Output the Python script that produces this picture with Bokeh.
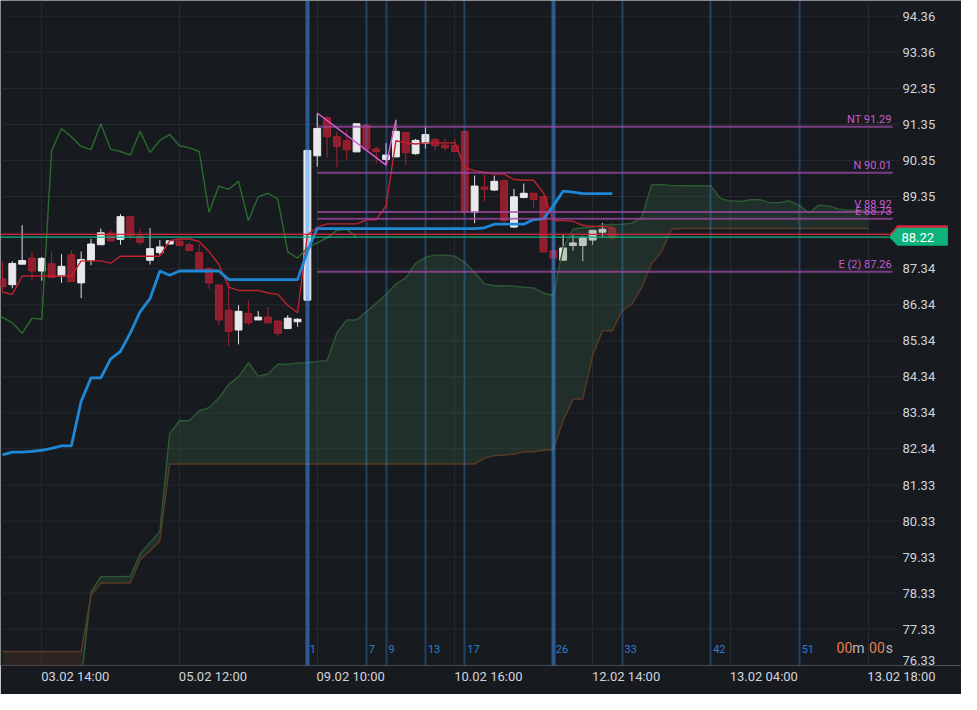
import numpy as np
from bokeh.plotting import figure
from bokeh.models import FixedTicker, Range1d, ColumnDataSource, PrintfTickFormatter
from bokeh.core.properties import value
from bokeh.embed import file_html
from bokeh.resources import INLINE

# ---------------- data ----------------
opens = [87.06, 86.90, 87.47, 87.64, 87.28, 87.48, 87.14, 87.73, 86.95, 87.57,
         88.01, 88.33, 88.16, 88.79, 88.25, 87.58, 87.79, 88.03, 88.11, 88.01,
         87.79, 87.35, 86.89, 86.19, 85.64, 86.10, 85.92, 86.00, 85.89, 85.68,
         85.87, 86.47, 90.48, 91.54, 91.01, 90.90, 90.59, 91.34, 90.67, 90.38,
         90.45, 91.13, 90.54, 90.83, 90.93, 90.78, 90.77, 91.16, 88.91, 89.61,
         89.53, 89.79, 88.50, 89.32, 89.44, 89.34, 87.84, 87.58, 87.99, 87.99,
         88.14, 88.36, 88.46]
highs = [87.55, 87.55, 88.55, 87.82, 87.67, 87.82, 87.75, 87.85, 87.82, 88.17,
         88.46, 88.43, 88.86, 88.79, 88.46, 88.47, 88.14, 88.12, 88.20, 88.07,
         88.03, 87.39, 86.89, 86.97, 86.33, 86.47, 86.17, 86.28, 85.89, 86.05,
         85.97, 90.63, 91.67, 91.58, 91.15, 91.20, 91.37, 91.34, 90.74, 90.83,
         91.48, 91.13, 90.95, 91.31, 90.97, 90.96, 90.96, 91.16, 89.93, 89.98,
         89.93, 89.79, 89.56, 89.71, 89.44, 89.34, 88.28, 88.28, 88.28, 88.25,
         88.41, 88.61, 88.61]
lows = [86.69, 86.80, 87.47, 87.01, 87.01, 87.10, 86.95, 86.99, 86.53, 87.44,
        88.01, 88.10, 88.01, 88.16, 88.01, 87.46, 87.72, 88.03, 87.99, 87.85,
        87.31, 86.78, 85.77, 85.20, 85.24, 85.77, 85.92, 85.83, 85.46, 85.68,
        85.73, 86.47, 90.18, 90.42, 90.16, 90.38, 90.59, 90.66, 90.27, 90.22,
        90.45, 90.22, 90.51, 90.68, 90.63, 90.61, 90.60, 88.82, 88.61, 89.21,
        89.50, 88.60, 88.48, 89.32, 89.02, 87.81, 87.33, 87.58, 87.84, 87.55,
        88.01, 88.23, 88.12]
closes = [86.85, 87.49, 87.57, 87.28, 87.63, 87.10, 87.41, 86.99, 87.60, 88.03,
          88.34, 88.12, 88.79, 88.26, 88.08, 87.90, 87.95, 88.12, 87.99, 87.85,
          87.31, 86.95, 85.92, 85.60, 86.16, 85.84, 86.00, 85.84, 85.55, 85.97,
          85.94, 90.63, 91.24, 91.01, 90.74, 90.65, 91.37, 90.66, 90.60, 90.50,
          91.16, 90.57, 90.91, 91.07, 90.76, 90.70, 90.60, 88.91, 89.64, 89.55,
          89.77, 88.68, 89.34, 89.44, 89.27, 87.81, 87.64, 87.92, 88.06, 88.20,
          88.41, 88.44, 88.22]

tenkan = [86.69, 86.63, 87.14, 87.14, 87.14, 87.14, 87.14, 87.14, 87.56, 87.56,
          87.56, 87.50, 87.69, 87.69, 87.69, 87.69, 87.69, 88.12, 88.17, 88.17,
          88.10, 87.82, 87.46, 86.83, 86.74, 86.74, 86.74, 86.67, 86.63, 86.33,
          86.12, 88.28, 88.50, 88.59, 88.59, 88.59, 88.59, 88.70, 88.71, 89.09,
          90.90, 90.84, 90.81, 90.84, 90.84, 90.84, 90.84, 90.15, 90.07, 90.02,
          89.97, 89.97, 89.82, 89.80, 89.80, 89.45, 88.68, 88.68, 88.66, 88.55,
          88.52, 88.52, 88.48]
kijun = [82.17, 82.25, 82.25, 82.27, 82.30, 82.35, 82.42, 82.42, 83.66, 84.31,
         84.31, 84.84, 85.05, 85.56, 86.15, 86.51, 87.28, 87.16, 87.28, 87.28,
         87.28, 87.28, 87.28, 87.04, 87.04, 87.04, 87.04, 87.04, 87.04, 87.04,
         87.04, 87.82, 88.46, 88.46, 88.46, 88.46, 88.46, 88.46, 88.46, 88.46,
         88.46, 88.46, 88.46, 88.46, 88.46, 88.46, 88.46, 88.46, 88.46, 88.48,
         88.58, 88.58, 88.58, 88.58, 88.71, 88.73, 89.09, 89.50, 89.47, 89.43,
         89.43, 89.43, 89.43]
senkou_a = [75.90, 75.90, 75.90, 75.90, 75.90, 75.90, 75.90, 75.90, 75.90, 78.35,
            78.79, 78.79, 78.79, 78.80, 79.42, 79.74, 80.04, 82.77, 83.12, 83.12,
            83.39, 83.48, 83.75, 84.13, 84.34, 84.73, 84.36, 84.42, 84.69, 84.69,
            84.72, 84.73, 84.77, 84.79, 85.56, 85.92, 85.92, 86.15, 86.38, 86.63,
            86.92, 87.08, 87.49, 87.66, 87.72, 87.72, 87.69, 87.52, 87.24, 86.92,
            86.87, 86.87, 86.86, 86.83, 86.81, 86.67, 86.60, 87.92, 88.44, 88.48,
            88.50, 88.55, 88.57, 88.58, 88.61, 88.77, 89.68, 89.68, 89.66, 89.65,
            89.65, 89.65, 89.65, 89.29, 89.23, 89.21, 89.26, 89.26, 89.18, 89.18,
            89.23, 89.11, 88.89, 89.11, 89.09, 89.00, 88.97, 88.97, 88.97]
senkou_b = [76.71, 76.71, 76.71, 76.71, 76.71, 76.71, 76.71, 76.71, 76.71, 78.27,
            78.61, 78.61, 78.61, 78.61, 79.25, 79.51, 79.78, 81.92, 81.92, 81.92,
            81.92, 81.92, 81.92, 81.92, 81.92, 81.92, 81.92, 81.92, 81.92, 81.92,
            81.92, 81.92, 81.92, 81.92, 81.92, 81.92, 81.92, 81.92, 81.92, 81.92,
            81.92, 81.92, 81.92, 81.92, 81.92, 81.92, 81.92, 81.92, 81.92, 82.08,
            82.15, 82.17, 82.19, 82.26, 82.26, 82.30, 82.32, 83.12, 83.72, 83.72,
            84.93, 85.62, 85.62, 86.17, 86.36, 86.83, 87.49, 87.81, 88.44, 88.46,
            88.46, 88.46, 88.46, 88.46, 88.46, 88.46, 88.46, 88.46, 88.46, 88.46,
            88.46, 88.46, 88.46, 88.46, 88.46, 88.46, 88.46, 88.46, 88.46]
chikou_shift = 26

target_names = ["NT", "N", "V", "E", "E (2)"]
target_levels = [91.29, 90.01, 88.92, 88.73, 87.26]
target_start_bar = 32

zigzag_bars = [32, 39, 40]

cycle_bars = [31, 37, 39, 43, 47, 56, 63, 72, 81]
cycle_labels = ["1", "7", "9", "13", "17", "26", "33", "42", "51"]
cycle_major = ["1", "26"]

ask_price = 88.30
bid_price = closes[-1]

date_bars = [4, 18, 32, 46, 60, 74, 88]
date_labels = ["03.02 14:00", "05.02 12:00", "09.02 10:00", "10.02 16:00",
               "12.02 14:00", "13.02 04:00", "13.02 18:00"]

y_tick_values = [76.33, 77.33, 78.33, 79.33, 80.33, 81.33, 82.34, 83.34, 84.34,
                 85.34, 86.34, 87.34, 88.34, 89.35, 90.35, 91.35, 92.35, 93.36, 94.36]

# ---------------- styling ----------------
BG = "#171a1f"
GRID = "#252930"
AXIS_TXT = "#d1d4dc"
FONT = "Roboto"
BULL = "#e9e9eb"
BEAR_FILL = "#8f1e2e"
BEAR_LINE = "#a8202f"

x_start, x_end = -0.2, 97.5      # whole width of the chart
price_end = 90.5                 # right end of the price area
axis_x = 91.2                    # where the price scale sits
y_start, y_end = 76.32, 94.795

p = figure(width=961, height=694,
           x_range=Range1d(x_start, x_end), y_range=Range1d(y_start, y_end),
           y_axis_location="right", toolbar_location=None, output_backend="svg",
           min_border_left=0, min_border_top=0, min_border_right=0, min_border_bottom=29,
           background_fill_color=BG, border_fill_color=BG, outline_line_color=None)

# price scale drawn inside the frame, at the right
hidden_tick = 88.34               # covered by the price box
edge_tick = y_tick_values[0]      # sits on the bottom edge, label nudged up
yax = p.yaxis[0]
yax.fixed_location = axis_x
yax.ticker = FixedTicker(ticks=[t for t in y_tick_values if t not in (hidden_tick, edge_tick)])
yax.formatter = PrintfTickFormatter(format="%.2f")
yax.axis_line_color = None
yax.major_tick_out = 0
yax.major_tick_in = 0
yax.major_tick_line_color = None
yax.minor_tick_line_color = None
yax.major_label_standoff = 3
yax.major_label_text_font = FONT
yax.major_label_text_font_size = "13px"
yax.major_label_text_color = AXIS_TXT
p.text(x=[axis_x], y=[edge_tick], text=[f"{edge_tick:.2f}"], x_offset=3, y_offset=-5,
       text_align="left", text_baseline="middle", text_font=value(FONT),
       text_font_size="13px", text_color=AXIS_TXT)

label_shift = 3.4
xax = p.xaxis[0]
xax.ticker = FixedTicker(ticks=[b + label_shift for b in date_bars])
xax.major_label_overrides = {b + label_shift: l for b, l in zip(date_bars, date_labels)}
xax.axis_line_color = None
xax.major_tick_line_color = None
xax.minor_tick_line_color = None
xax.major_tick_out = 0
xax.major_tick_in = 0
xax.major_label_standoff = 3
xax.major_label_text_font = FONT
xax.major_label_text_font_size = "13px"
xax.major_label_text_color = AXIS_TXT

p.xgrid.ticker = FixedTicker(ticks=date_bars)
p.xgrid.grid_line_color = GRID
p.ygrid.grid_line_color = None
# horizontal grid lines stop at the price scale
p.segment(x0=[x_start] * len(y_tick_values), x1=[axis_x] * len(y_tick_values),
          y0=y_tick_values, y1=y_tick_values, line_color=GRID, line_width=1)

# candles
idx = np.arange(len(opens))
o = np.array(opens); c = np.array(closes)
up = c >= o
csrc = ColumnDataSource(dict(
    x=idx, top=np.maximum(o, c), bottom=np.minimum(o, c), high=highs, low=lows,
    fill=[BULL if u else BEAR_FILL for u in up],
    line=[BULL if u else BEAR_LINE for u in up],
    wick=["#e2e2e4" if u else BEAR_LINE for u in up],
))
p.segment(x0="x", y0="low", x1="x", y1="high", line_color="wick", line_width=1, source=csrc)
p.vbar(x="x", width=0.7, top="top", bottom="bottom", fill_color="fill",
       line_color="line", line_width=1, source=csrc)

# cloud (drawn over the candles, translucent)
A = np.array(senkou_a); B = np.array(senkou_b)
cx = np.arange(len(A))
lo = np.minimum(A, B)
p.varea(x=cx, y1=A, y2=lo, fill_color="#3d6a4a", fill_alpha=0.27)
p.varea(x=cx, y1=B, y2=lo, fill_color="#7a4a2a", fill_alpha=0.22)
p.line(cx, A, line_color="#2c5a33", line_width=1.4)
p.line(cx, B, line_color="#5b3a24", line_width=1.4)

# cycle lines
csrc2 = ColumnDataSource(dict(
    x=cycle_bars,
    w=[4 if l in cycle_major else 2 for l in cycle_labels],
    a=[0.5 if l in cycle_major else 0.3 for l in cycle_labels],
))
p.vspan(x="x", line_width="w", line_alpha="a", line_color="#3d9aff", source=csrc2)

# chikou span: closes plotted 26 bars back
ch_x = np.arange(chikou_shift - 1, len(closes)) - chikou_shift
ch_y = np.array(closes[chikou_shift - 1:])
p.line(ch_x, ch_y, line_color="#2d6a2f", line_width=1.4)

# tenkan / kijun
p.line(idx, tenkan, line_color="#c0212f", line_width=1.4)
p.line(idx, kijun, line_color="#1e88d6", line_width=2.8)

# target lines
n_t = len(target_levels)
p.segment(x0=[target_start_bar] * n_t, x1=[price_end] * n_t, y0=target_levels, y1=target_levels,
          line_color="#a04aa8", line_width=2, line_alpha=0.75)
p.text(x=[price_end] * n_t, y=target_levels,
       text=[f"{n} {v:.2f}" for n, v in zip(target_names, target_levels)],
       text_align="right", text_baseline="bottom", x_offset=-1, y_offset=-1,
       text_font=value(FONT), text_font_size="11px", text_color="#c95ccc")

# zigzag through the swing points
zz_y = [highs[zigzag_bars[0]], lows[zigzag_bars[1]], highs[zigzag_bars[2]]]
p.line(zigzag_bars, zz_y, line_color="#d65ad6", line_width=1.5)

# bid / ask lines, ending at the price box
tip = price_end - 0.35
p.segment(x0=[x_start, x_start], x1=[tip, tip], y0=[ask_price, bid_price], y1=[ask_price, bid_price],
          line_color=["#d4263c", "#10b981"], line_width=1.2)

# cycle numbers
p.text(x=np.array(cycle_bars) + 0.25, y=[y_start + 0.47] * len(cycle_bars), text=cycle_labels,
       text_align="left", text_baseline="middle", text_font=value(FONT),
       text_font_size="11px", text_color="#2f7fd3")

# countdown
p.text(x=[84.8, 86.4, 88.1, 89.8], y=[y_start + 0.5] * 4, text=["00", "m", "00", "s"],
       text_align="left", text_baseline="middle", text_font=value(FONT), text_font_size="14px",
       text_color=["#ec7c4c", "#b8bcc2", "#ec7c4c", "#b8bcc2"])

# price box on the scale
bx0, bx1 = 91.0, 96.1
h_up, h_dn, red_lift = 0.26, 0.24, 0.07
p.patch([tip, bx0, bx1, bx1, bx0],
        [bid_price + red_lift, bid_price + h_up + red_lift, bid_price + h_up + red_lift,
         bid_price - h_dn + red_lift, bid_price - h_dn + red_lift],
        fill_color="#d4263c", line_color=None)
p.patch([tip, bx0, bx1, bx1, bx0],
        [bid_price, bid_price + h_up, bid_price + h_up, bid_price - h_dn, bid_price - h_dn],
        fill_color="#0fb27a", line_color=None)
p.text(x=[axis_x + 0.2], y=[bid_price], text=[f"{bid_price:.2f}"], text_align="left",
       text_baseline="middle", text_font=value(FONT), text_font_size="13px", text_color="#ffffff")

open("out.html", "w").write(file_html(p, INLINE))
